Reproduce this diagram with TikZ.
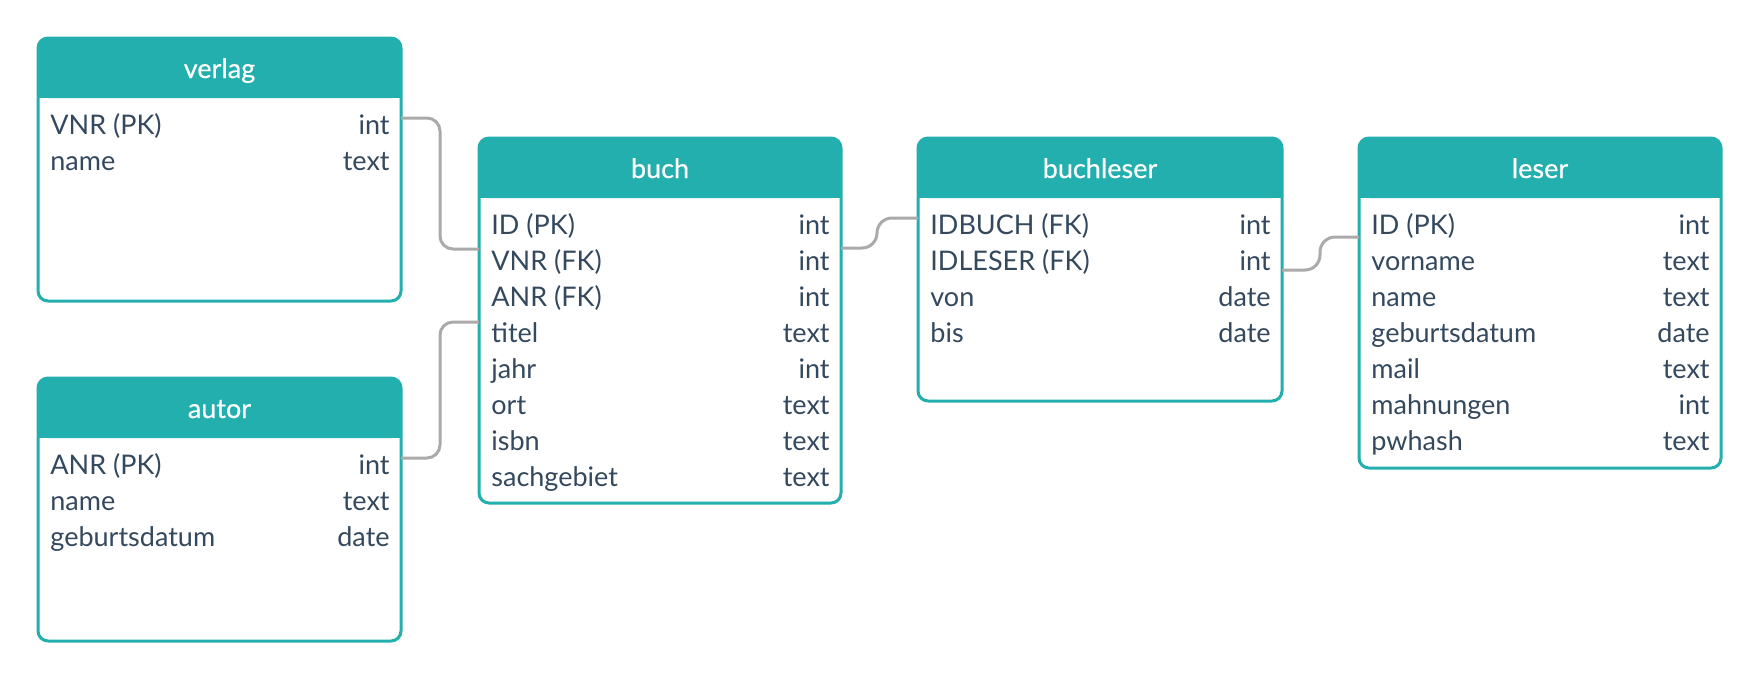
\documentclass[tikz,border=0pt]{standalone}
\usepackage{fontspec}
\setmainfont{Lato}
\newfontfamily\ttlfont[FakeBold=0.5]{Lato}
\usetikzlibrary{fit}
\definecolor{teal1}{HTML}{23AFAD}
\definecolor{ink}{HTML}{34495E}
\definecolor{wire}{HTML}{AAAAAA}
\tikzset{
  hdr/.style={fill=teal1},
  frame/.style={draw=teal1,line width=1.5pt,rounded corners=5pt},
  ttl/.style={text=white,font=\ttlfont\fontsize{13.5}{15}\selectfont,anchor=base,inner sep=0pt},
  fld/.style={text=ink,font=\fontsize{13.5}{15}\selectfont,anchor=base west,inner sep=0pt},
  typ/.style={text=ink,font=\fontsize{13.5}{15}\selectfont,anchor=base east,inner sep=0pt},
  wireline/.style={draw=wire,line width=1.5pt,rounded corners=6.5pt},
  wires/.style={draw=wire,line width=1.5pt,rounded corners=7.5pt},
}
% name, left, top, right, bottom, title, rows
\newcommand{\ertable}[7]{%
  \fill[hdr,rounded corners=5pt] (#2,#3) rectangle (#4,#3+60);
  \fill[hdr] (#2,#3+30) rectangle (#4,#3+60);
  \draw[frame] (#2,#3) rectangle (#4,#5);
  \node[fit={(#2,#3) (#4,#5)},inner sep=0pt] (#1) {};
  \node[ttl] (#1-title) at ({(#2+#4)/2},#3+40) {#6};
  \foreach \f/\t [count=\i] in {#7} {
    \node[fld] (#1-f\i) at (#2+12,#3+60+36*\i) {\f};
    \node[typ] (#1-t\i) at (#4-11,#3+60+36*\i) {\t};
  }%
}
\begin{document}
\begin{tikzpicture}[x=0.5pt,y=-0.5pt]
\useasboundingbox (0,0) rectangle (1760,680);
\fill[white] (0,0) rectangle (1760,680);

\ertable{verlag}{38}{38}{401}{301}{verlag}{{VNR (PK)}/int,name/text}
\ertable{autor}{38}{378}{401}{641}{autor}{{ANR (PK)}/int,name/text,geburtsdatum/date}
\ertable{buch}{479}{138}{841}{503}{buch}{{ID (PK)}/int,{VNR (FK)}/int,{ANR (FK)}/int,titel/text,jahr/int,ort/text,isbn/text,sachgebiet/text}
\ertable{buchleser}{918}{138}{1282}{401}{buchleser}{{IDBUCH (FK)}/int,{IDLESER (FK)}/int,von/date,bis/date}
\ertable{leser}{1359}{138}{1721}{468}{leser}{{ID (PK)}/int,vorname/text,name/text,geburtsdatum/date,mail/text,mahnungen/int,pwhash/text}

% connector end points on the table edges
\coordinate (vA) at (401,118);
\coordinate (vB) at (479,249);
\coordinate (aA) at (401,458);
\coordinate (aB) at (479,322);
\coordinate (bA) at (841,248);
\coordinate (bB) at (918,218);
\coordinate (lA) at (1282,270);
\coordinate (lB) at (1359,237);

\draw[wireline] (vA) -- (440,118) -- (440,249) -- (vB);
\draw[wireline] (aA) -- (440,458) -- (440,322) -- (aB);
\draw[wires] (bA) -- (877,248) -- (877,218) -- (bB);
\draw[wires] (lA) -- (1320,270) -- (1320,237) -- (lB);
\end{tikzpicture}
\end{document}
